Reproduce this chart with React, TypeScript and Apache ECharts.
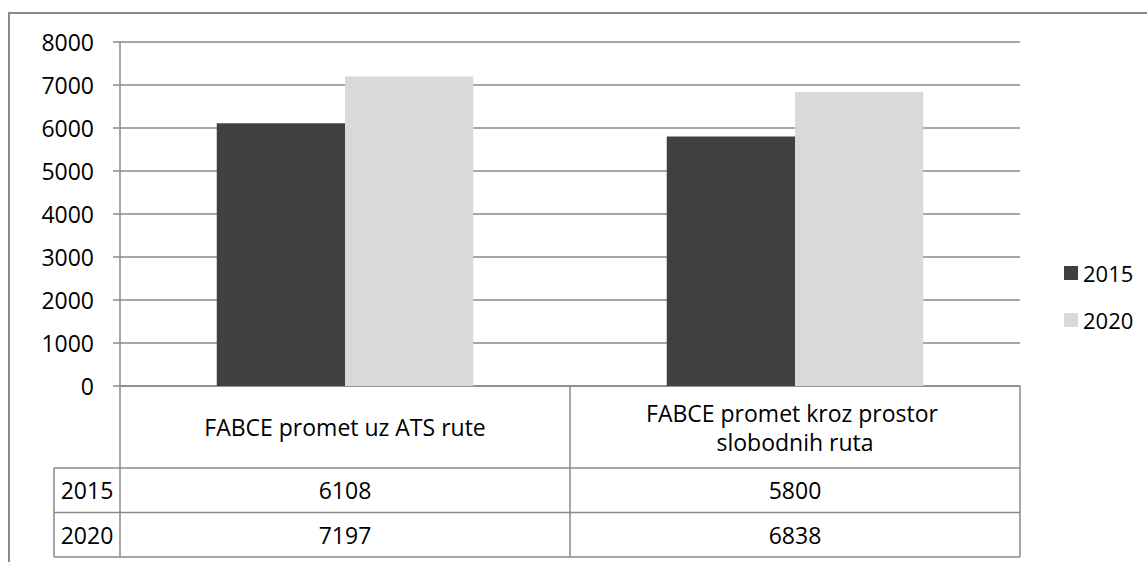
import React, { useEffect, useRef } from "react";
import * as echarts from "echarts";

const categories = ["FABCE promet uz ATS rute", "FABCE promet kroz prostor slobodnih ruta"];
const seriesNames = ["2015", "2020"];
const values2015 = [6108, 5800];
const values2020 = [7197, 6838];
const yTicks = { min: 0, max: 8000, interval: 1000 };

const W = 1147;
const H = 562;
const GRID_LEFT = 120;
const GRID_RIGHT = 127;
const GRID_TOP = 42;
const GRID_BOTTOM = 176;
const FONT = "'Open Sans', sans-serif";
const LINE = "#8a8a8a";

export default function App() {
  const ref = useRef<HTMLDivElement>(null);
  useEffect(() => {
    document.body.style.margin = "0";
    const chart = echarts.init(ref.current!, undefined, { renderer: "svg" });
    const plotW = W - GRID_LEFT - GRID_RIGHT;
    const axisY = H - GRID_BOTTOM;
    const cellW = plotW / categories.length;
    const labelRowH = 82;
    const rowH = 44.5;
    const rowLabelLeft = 54;
    const tableTop = axisY + labelRowH;
    const tableBottom = tableTop + rowH * seriesNames.length;
    const allValues = [values2015, values2020];

    const graphics: any[] = [
      {
        type: "rect",
        shape: { x: 9, y: 13, width: 1300, height: 700 },
        style: { fill: "none", stroke: LINE, lineWidth: 2 },
        silent: true,
      },
    ];
    for (let i = 0; i <= categories.length; i++) {
      const x = GRID_LEFT + cellW * i;
      graphics.push({
        type: "line",
        shape: { x1: x, y1: axisY, x2: x, y2: tableBottom },
        style: { stroke: LINE, lineWidth: 1.5 },
      });
    }
    graphics.push({
      type: "line",
      shape: { x1: rowLabelLeft, y1: tableTop, x2: rowLabelLeft, y2: tableBottom },
      style: { stroke: LINE, lineWidth: 1.5 },
    });
    for (let r = 0; r <= seriesNames.length; r++) {
      const y = tableTop + rowH * r;
      graphics.push({
        type: "line",
        shape: { x1: rowLabelLeft, y1: y, x2: GRID_LEFT + plotW, y2: y },
        style: { stroke: LINE, lineWidth: 1.5 },
      });
    }
    seriesNames.forEach((name, r) => {
      const cy = tableTop + rowH * r + rowH / 2;
      graphics.push({
        type: "text",
        x: (rowLabelLeft + GRID_LEFT) / 2,
        y: cy,
        style: { text: name, fontSize: 23, fontFamily: FONT, fill: "#000", align: "center", verticalAlign: "middle" },
      });
      allValues[r].forEach((v, c) => {
        graphics.push({
          type: "text",
          x: GRID_LEFT + cellW * c + cellW / 2,
          y: cy,
          style: { text: String(v), fontSize: 23, fontFamily: FONT, fill: "#000", align: "center", verticalAlign: "middle" },
        });
      });
    });

    chart.setOption({
      animation: false,
      textStyle: { fontFamily: FONT },
      grid: { left: GRID_LEFT, right: GRID_RIGHT, top: GRID_TOP, bottom: GRID_BOTTOM },
      legend: {
        orient: "vertical",
        left: 1059,
        top: 257,
        itemWidth: 14,
        itemHeight: 14,
        itemGap: 25,
        icon: "rect",
        textStyle: { fontSize: 22, lineHeight: 22, color: "#000", fontFamily: FONT },
        data: seriesNames,
      },
      xAxis: {
        type: "category",
        data: categories,
        axisLine: { show: true, lineStyle: { color: LINE, width: 1.5 } },
        axisTick: { show: false },
        axisLabel: {
          color: "#000",
          fontSize: 23,
          fontFamily: FONT,
          margin: 41,
          verticalAlign: "middle",
          lineHeight: 29,
          width: 330,
          overflow: "break",
          interval: 0,
        },
      },
      yAxis: {
        type: "value",
        min: yTicks.min,
        max: yTicks.max,
        interval: yTicks.interval,
        axisLine: { show: true, lineStyle: { color: LINE, width: 1.5 } },
        axisTick: { show: true, length: 7, lineStyle: { color: LINE, width: 1.5 } },
        axisLabel: {
          color: "#000",
          fontSize: 23,
          fontFamily: FONT,
          margin: 26,
          formatter: (v: number) => String(v),
        },
        splitLine: { show: true, lineStyle: { color: LINE, width: 1.5 } },
      },
      series: [
        {
          name: seriesNames[0],
          type: "bar",
          data: values2015,
          itemStyle: { color: "#404040" },
          barGap: "0%",
          barCategoryGap: "43%",
        },
        {
          name: seriesNames[1],
          type: "bar",
          data: values2020,
          itemStyle: { color: "#d9d9d9" },
          barGap: "0%",
          barCategoryGap: "43%",
        },
      ],
      graphic: graphics,
    });
    return () => chart.dispose();
  }, []);
  return <div ref={ref} style={{ width: W, height: H }} />;
}
